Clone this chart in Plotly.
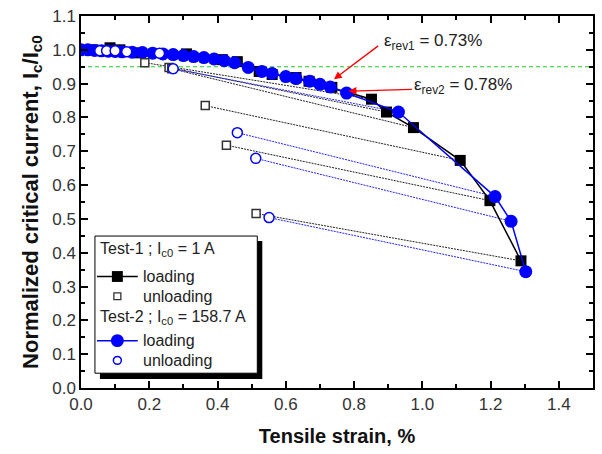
import plotly.graph_objects as go

# ---- data ----
t1_load_x = [0.035, 0.085, 0.114, 0.172, 0.309, 0.414, 0.458, 0.522, 0.56, 0.63, 0.668, 0.735,
             0.851, 0.895, 0.974, 1.111, 1.198, 1.289]
t1_load_y = [1.0, 1.006, 1.0, 0.991, 0.988, 0.971, 0.965, 0.936, 0.927, 0.918, 0.907, 0.889,
             0.854, 0.816, 0.77, 0.673, 0.554, 0.376]

t1_unload_x = [0.187, 0.258, 0.266, 0.364, 0.426, 0.513]
t1_unload_y = [0.962, 0.948, 0.944, 0.835, 0.718, 0.516]
t1_pair = [12, 13, 14, 15, 16, 17]   # index of loading point each unloading point belongs to

t2_load_x = [0.0, 0.02, 0.04, 0.06, 0.08, 0.10, 0.12, 0.15, 0.18, 0.21, 0.24, 0.27, 0.30, 0.33,
             0.36, 0.39, 0.42, 0.45, 0.49, 0.53, 0.56, 0.60, 0.63, 0.67, 0.70, 0.73, 0.778,
             0.93, 1.213, 1.26, 1.303]
t2_load_y = [1.0, 1.0, 0.998, 0.997, 0.996, 0.995, 0.994, 0.993, 0.992, 0.99, 0.988, 0.986, 0.983,
             0.98, 0.977, 0.973, 0.968, 0.962, 0.948, 0.936, 0.93, 0.921, 0.915, 0.907, 0.898,
             0.89, 0.872, 0.816, 0.566, 0.493, 0.344]

t2_unload_x = [0.055, 0.075, 0.10, 0.134, 0.23, 0.27, 0.458, 0.512, 0.551]
t2_unload_y = [0.997, 0.997, 0.997, 0.994, 0.99, 0.944, 0.755, 0.679, 0.504]
t2_pair = [None, None, None, None, None, 27, 28, 29, 30]

threshold = 0.95
x_ticks = [0.0, 0.2, 0.4, 0.6, 0.8, 1.0, 1.2, 1.4]
y_ticks = [0.0, 0.1, 0.2, 0.3, 0.4, 0.5, 0.6, 0.7, 0.8, 0.9, 1.0, 1.1]

FONT = "Arial, Liberation Sans, sans-serif"
BLUE = "#0000ff"


def segments(ux, uy, pair, lx, ly):
    xs, ys = [], []
    for a, b, p in zip(ux, uy, pair):
        if p is None:
            continue
        xs += [a, lx[p], None]
        ys += [b, ly[p], None]
    return xs, ys


fig = go.Figure()

sx, sy = segments(t1_unload_x, t1_unload_y, t1_pair, t1_load_x, t1_load_y)
fig.add_trace(go.Scatter(x=sx, y=sy, mode="lines",
                         line=dict(color="#222222", width=1, dash="2px,1px"), hoverinfo="skip"))
sx, sy = segments(t2_unload_x, t2_unload_y, t2_pair, t2_load_x, t2_load_y)
fig.add_trace(go.Scatter(x=sx, y=sy, mode="lines",
                         line=dict(color="#2222ff", width=1, dash="2px,1px"), hoverinfo="skip"))

fig.add_trace(go.Scatter(x=[0, 1.5], y=[threshold, threshold], mode="lines",
                         line=dict(color="#22cc22", width=1.2, dash="4px,3px"), hoverinfo="skip"))

fig.add_trace(go.Scatter(x=t1_load_x, y=t1_load_y, mode="lines+markers",
                         line=dict(color="black", width=1.5),
                         marker=dict(symbol="square", size=11, color="black")))
fig.add_trace(go.Scatter(x=t2_load_x, y=t2_load_y, mode="lines+markers",
                         line=dict(color=BLUE, width=1.5),
                         marker=dict(symbol="circle", size=13, color=BLUE)))
fig.add_trace(go.Scatter(x=t1_unload_x, y=t1_unload_y, mode="markers",
                         marker=dict(symbol="square", size=8, color="white",
                                     line=dict(color="#333333", width=1.5))))
fig.add_trace(go.Scatter(x=t2_unload_x, y=t2_unload_y, mode="markers",
                         marker=dict(symbol="circle", size=10, color="white",
                                     line=dict(color=BLUE, width=1.5))))

# annotations with arrows
fig.add_annotation(x=0.741, y=0.913, ax=0.875, ay=1.015, xref="x", yref="y", axref="x", ayref="y",
                   text="", showarrow=True, arrowhead=2, arrowsize=1.2, arrowwidth=1.3,
                   arrowcolor="red")
fig.add_annotation(x=0.784, y=0.878, ax=0.974, ay=0.883, xref="x", yref="y", axref="x", ayref="y",
                   text="", showarrow=True, arrowhead=2, arrowsize=1.2, arrowwidth=1.3,
                   arrowcolor="red")
fig.add_annotation(x=0.883, y=1.022, xref="x", yref="y", xanchor="left", yanchor="middle",
                   text="ε<sub>rev1</sub> = 0.73%", showarrow=False,
                   font=dict(family=FONT, size=17, color="#222222"))
fig.add_annotation(x=0.970, y=0.893, xref="x", yref="y", xanchor="left", yanchor="middle",
                   text="ε<sub>rev2</sub> = 0.78%", showarrow=False,
                   font=dict(family=FONT, size=17, color="#222222"))

# ---- legend (drawn by hand) ----
L, R, T, B = 81, 595, 11, 388


def px(xpix):
    return (xpix - L) / (R - L)


def py(ypix):
    return (B - ypix) / (B - T)


shapes = []
shapes.append(dict(type="rect", xref="paper", yref="paper", x0=px(100), x1=px(263),
                   y0=py(379), y1=py(239), fillcolor="black", line=dict(width=0)))
shapes.append(dict(type="rect", xref="paper", yref="paper", x0=px(95), x1=px(258),
                   y0=py(373), y1=py(234), fillcolor="white", line=dict(color="black", width=1)))
# sample lines
for ypix, col in [(275, "black"), (340, BLUE)]:
    shapes.append(dict(type="line", xref="paper", yref="paper", x0=px(97), x1=px(138),
                       y0=py(ypix), y1=py(ypix), line=dict(color=col, width=1.5)))
shapes.append(dict(type="rect", xref="paper", yref="paper", x0=px(112), x1=px(123),
                   y0=py(280.5), y1=py(269.5), fillcolor="black", line=dict(width=0)))
shapes.append(dict(type="rect", xref="paper", yref="paper", x0=px(114), x1=px(121),
                   y0=py(298.5), y1=py(291.5), fillcolor="white",
                   line=dict(color="#333333", width=1.3)))
shapes.append(dict(type="circle", xref="paper", yref="paper", x0=px(111), x1=px(124),
                   y0=py(346.5), y1=py(333.5), fillcolor=BLUE, line=dict(width=0)))
shapes.append(dict(type="circle", xref="paper", yref="paper", x0=px(113.5), x1=px(121.5),
                   y0=py(364), y1=py(356), fillcolor="white", line=dict(color=BLUE, width=1.5)))

leg_texts = [(98, 248, "Test-1 ; I<sub>c0</sub> = 1 A"),
             (141, 275, "loading"),
             (141, 295, "unloading"),
             (98, 317, "Test-2 ; I<sub>c0</sub> = 158.7 A"),
             (141, 340, "loading"),
             (141, 360, "unloading")]
for xpix, ypix, t in leg_texts:
    fig.add_annotation(x=px(xpix), y=py(ypix), xref="paper", yref="paper", xanchor="left",
                       yanchor="middle", text=t, showarrow=False,
                       font=dict(family=FONT, size=16, color="#222222"))

axis_common = dict(showline=True, linecolor="black", linewidth=1.5, mirror="ticks",
                   ticks="inside", ticklen=7, tickwidth=1.5, tickcolor="black",
                   showgrid=False, zeroline=False,
                   tickfont=dict(family=FONT, size=17, color="#333333"))

fig.update_layout(
    width=602, height=454,
    margin=dict(l=L, r=602 - R, t=T, b=454 - B),
    paper_bgcolor="white", plot_bgcolor="white",
    showlegend=False,
    shapes=shapes,
    xaxis=dict(range=[0, 1.5], tickvals=x_ticks, ticktext=[f"{v:.1f}" for v in x_ticks],
               minor=dict(dtick=0.1, ticklen=4, tickwidth=1.5, tickcolor="black", ticks="inside"),
               title=dict(text="<b>Tensile strain, %</b>", standoff=16,
                          font=dict(family=FONT, size=20, color="#111111")),
               **axis_common),
    yaxis=dict(range=[0, 1.1], tickvals=y_ticks, ticktext=[f"{v:.1f}" for v in y_ticks],
               minor=dict(dtick=0.05, ticklen=4, tickwidth=1.5, tickcolor="black", ticks="inside"),
               title=dict(text="<b>Normalized critical current, I<sub>c</sub>/I<sub>c0</sub></b>",
                          standoff=8, font=dict(family=FONT, size=22, color="#111111")),
               **axis_common),
)

fig.write_html("out.html")
